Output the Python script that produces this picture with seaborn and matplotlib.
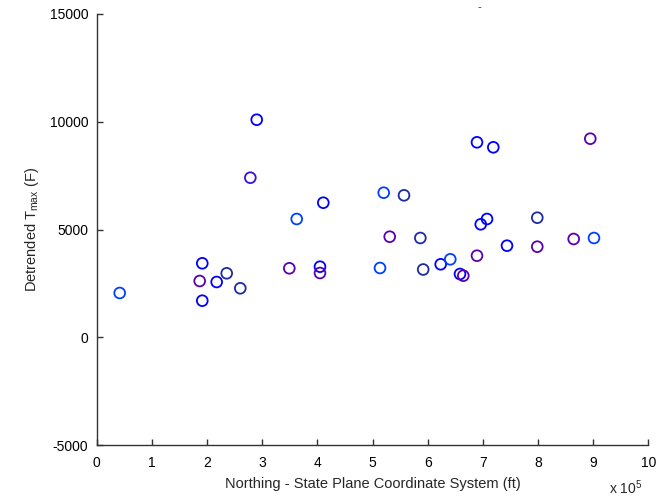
import matplotlib
matplotlib.use("Agg")
import matplotlib.pyplot as plt
import seaborn as sns
import pandas as pd
import numpy as np
from matplotlib.ticker import FuncFormatter, MultipleLocator

# Station northing (ft, State Plane) and detrended Tmax (F)
northing_ft = [41700, 191400, 186700, 217500, 235700, 260300, 191400, 278500,
               290100, 362600, 349200, 404800, 404800, 410800, 513600, 520300,
               531200, 557100, 586700, 591900, 623600, 641000, 658600, 664600,
               689400, 689400, 696200, 707600, 719000, 743800, 798700, 798700,
               864700, 901500, 894800]
tmax_detrended = [2063, 3440, 2619, 2573, 2976, 2281, 1706, 7408,
                  10097, 5494, 3208, 3282, 2990, 6249, 3222, 6713,
                  4673, 6592, 4613, 3152, 3394, 3625, 2944, 2865,
                  9050, 3792, 5248, 5494, 8818, 4256, 5554, 4210,
                  4567, 4613, 9217]
station_group = ["bright", "blue", "purple", "blue", "navy", "navy", "blue", "violet",
                 "blue", "bright", "purple", "blue", "purple", "blue", "bright", "bright",
                 "purple", "navy", "navy", "navy", "blue", "bright", "blue", "purple",
                 "blue", "purple", "blue", "blue", "blue", "blue", "navy", "purple",
                 "purple", "bright", "purple"]

group_colors = {"blue": "#0000ff", "bright": "#0040ff", "navy": "#1c2aa8",
                "violet": "#3a10e0", "purple": "#5a00b0"}

df = pd.DataFrame({"northing": northing_ft, "tmax": tmax_detrended,
                   "group": station_group})

sns.set_style("white")
plt.rcParams["font.family"] = ["Liberation Sans", "DejaVu Sans"]
plt.rcParams["mathtext.default"] = "regular"
plt.rcParams.update({
    "xtick.direction": "in", "ytick.direction": "in",
    "xtick.bottom": True, "ytick.left": True,
    "xtick.major.size": 4, "ytick.major.size": 4,
    "xtick.major.width": 1.0, "ytick.major.width": 1.0,
    "xtick.major.pad": 8, "ytick.major.pad": 6,
    "xtick.color": "#333333", "ytick.color": "#333333",
    "xtick.labelcolor": "black", "ytick.labelcolor": "black",
    "xtick.labelsize": 10, "ytick.labelsize": 10,
})

fig = plt.figure(figsize=(6.6, 5.03), dpi=100)
ax = fig.add_axes([0.1465, 0.1147, 0.8358, 0.8575])

sns.scatterplot(data=df, x="northing", y="tmax", hue="group",
                palette=group_colors, s=60, marker="o", legend=False, ax=ax)
coll = ax.collections[0]
fc = coll.get_facecolors()
coll.set_edgecolors(fc)
coll.set_facecolors("none")
coll.set_linewidths(1.3)

ax.set_xlim(0, 1e6)
ax.set_ylim(-5000, 15000)
ax.xaxis.set_major_locator(MultipleLocator(1e5))
ax.yaxis.set_major_locator(MultipleLocator(5000))
ax.xaxis.set_major_formatter(FuncFormatter(lambda v, p: f"{v/1e5:g}"))
ax.yaxis.set_major_formatter(FuncFormatter(lambda v, p: f"{v:g}"))

for side in ("top", "right"):
    ax.spines[side].set_visible(False)
for side in ("left", "bottom"):
    ax.spines[side].set_color("#333333")
    ax.spines[side].set_linewidth(1.0)

ax.set_xlabel("Northing - State Plane Coordinate System (ft)", fontsize=10.5,
              labelpad=4.5)
ax.set_ylabel("Detrended T$_{max}$ (F)", fontsize=10.5, labelpad=6)

fig.text(0.922, 0.012, "x 10$^{5}$", fontsize=10, ha="left", va="bottom")
fig.text(0.727, 0.985, "-", fontsize=8, ha="center", va="center")

fig.savefig("out.png", dpi=100)
